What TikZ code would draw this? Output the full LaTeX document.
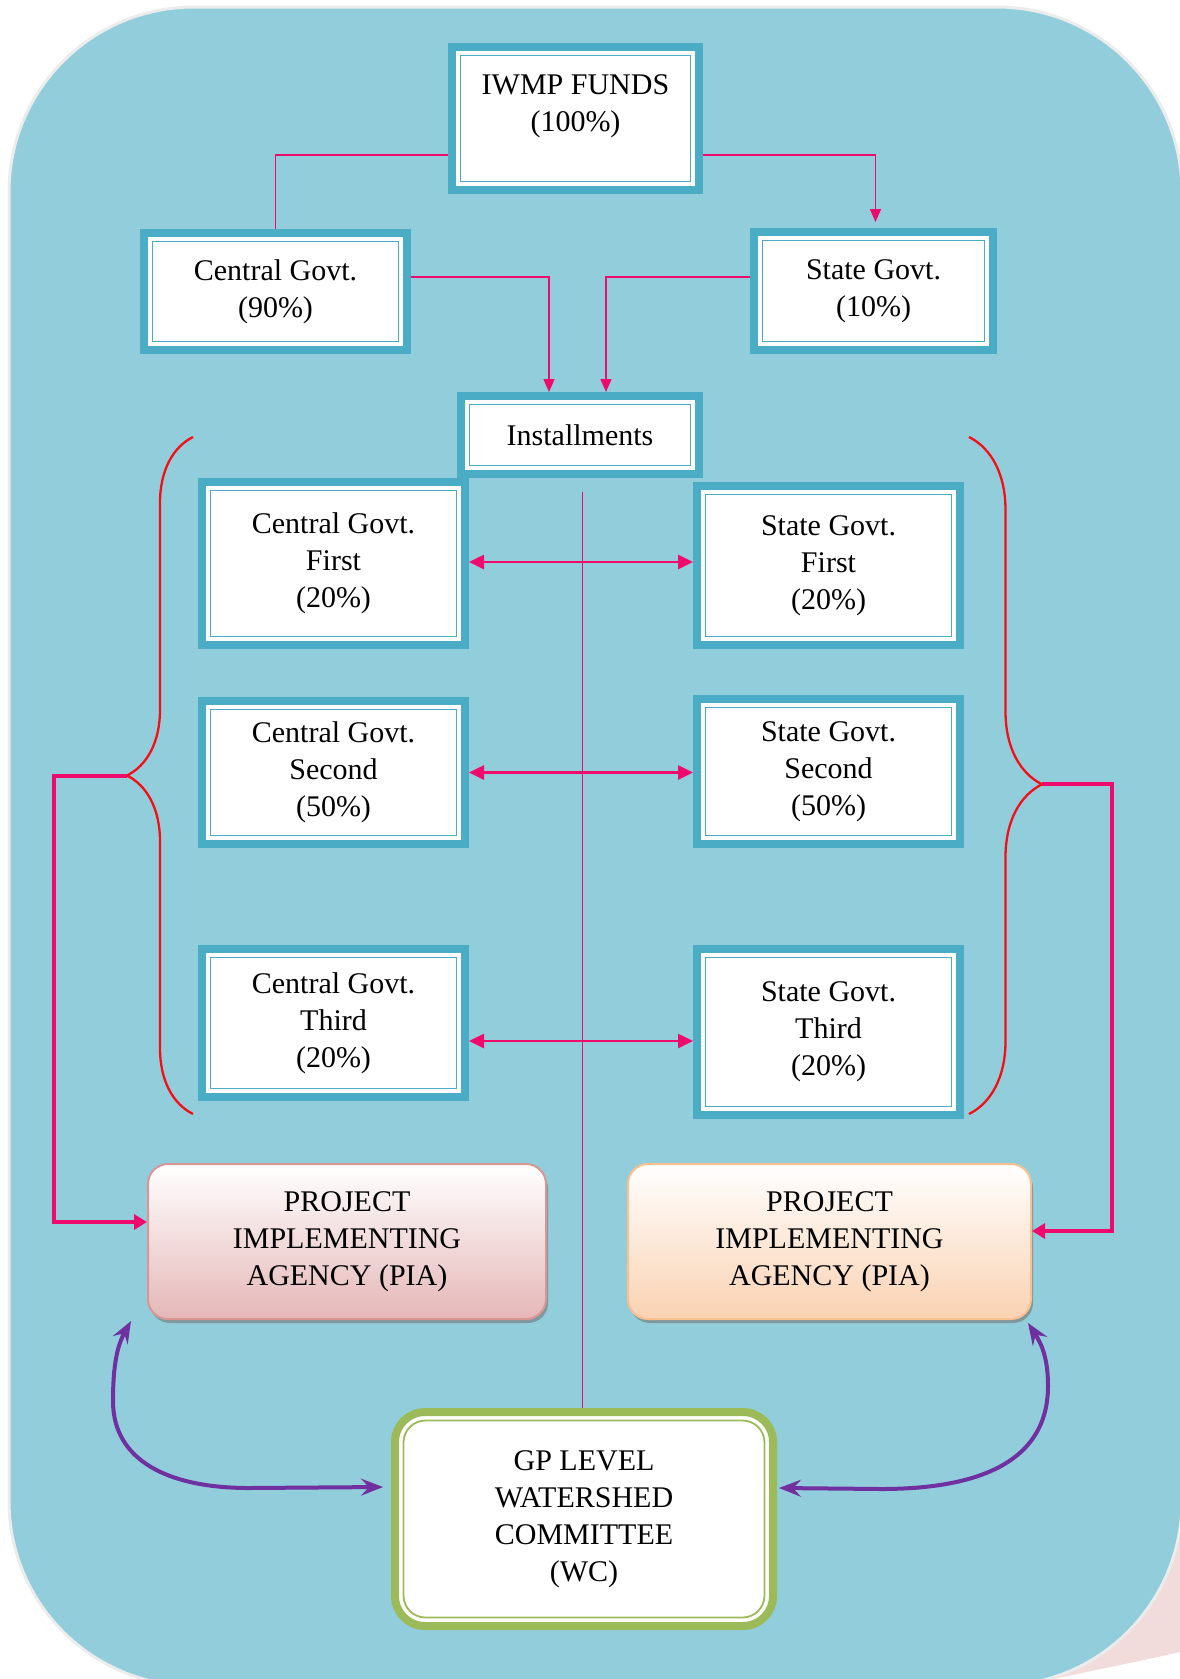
\documentclass[tikz,border=0pt]{standalone}
\usepackage{fontspec}
\setmainfont{Liberation Serif}
\usepackage{tikz}
\usetikzlibrary{arrows.meta, shadows, calc}
\usetikzlibrary{positioning}
\usetikzlibrary{decorations.pathreplacing}
\definecolor{bgblue}{RGB}{146,205,220}
\definecolor{bgedge}{RGB}{236,236,236}
\definecolor{pinkshade}{RGB}{242,220,219}
\definecolor{frameblue}{RGB}{75,172,198}
\definecolor{linkpink}{RGB}{240,10,110}
\definecolor{bracered}{RGB}{245,15,20}
\definecolor{wcpurple}{RGB}{112,48,160}
\definecolor{wcgreen}{RGB}{155,187,89}
\definecolor{piapink}{RGB}{229,183,183}
\definecolor{piapinkline}{RGB}{217,150,148}
\definecolor{piapeach}{RGB}{250,210,178}
\definecolor{piapeachline}{RGB}{250,192,144}
\tikzstyle{fundBox} = [rectangle, draw=frameblue, line width=8pt, fill=white, align=center, inner sep=0pt,
  path picture={\draw[frameblue, line width=1.8pt] ([shift={(8.5pt,8.5pt)}]path picture bounding box.south west) rectangle ([shift={(-8.5pt,-8.5pt)}]path picture bounding box.north east);}]
\tikzstyle{piaBox} = [rectangle, rounded corners=20pt, line width=2pt, align=center, inner sep=0pt, minimum height=155pt,
  drop shadow={shadow xshift=2pt, shadow yshift=-4pt, fill=black!55, opacity=.6}]
\tikzstyle{wcBox} = [rectangle, rounded corners=30pt, draw=wcgreen, line width=8pt, fill=white, align=center, inner sep=0pt,
  path picture={\draw[wcgreen, line width=1.8pt, rounded corners=22pt] ([shift={(8.5pt,8.5pt)}]path picture bounding box.south west) rectangle ([shift={(-8.5pt,-8.5pt)}]path picture bounding box.north east);}]
\tikzstyle{thinLink} = [draw=linkpink, line width=1.6pt]
\tikzstyle{thinArrow} = [thinLink, -{Triangle[length=13pt,width=11pt]}]
\tikzstyle{pairArrow} = [draw=linkpink, line width=2.6pt, {Triangle[length=15pt,width=14pt]}-{Triangle[length=15pt,width=14pt]}]
\tikzstyle{piaArrow} = [draw=linkpink, line width=4pt, -{Triangle[length=13pt,width=15pt]}]
\tikzstyle{braceLine} = [draw=bracered, line width=2.3pt, decorate, decoration={brace, amplitude=66pt}]
\tikzstyle{wcArrow} = [draw=wcpurple, line width=4pt, {Stealth[length=22pt,width=17pt,inset=8pt]}-{Stealth[length=22pt,width=17pt,inset=8pt]}]

\begin{document}
\begin{tikzpicture}[x=1pt, y=1pt, font=\fontsize{30}{37}\selectfont]

	\useasboundingbox (0,0) rectangle (1180,-1679);
	\clip (0,0) rectangle (1180,-1679);

	% background
	\fill[pinkshade] (1180,-1480) -- (1180,-1652) .. controls (1110,-1668) and (1060,-1676) .. (1010,-1690) -- (1010,-1480) -- cycle;
	\draw[bgedge, line width=3pt, fill=bgblue, rounded corners=185pt] (9,-7) rectangle (1182,-1686);

	\node[fundBox, minimum width=247pt, minimum height=143pt] at (575.5,-118.5) (IWMP-Funds) {IWMP FUNDS\\(100\%)\\[-6pt]~};

	\node[fundBox, minimum width=263pt, minimum height=117pt] at (275.5,-291.5) (Central-Govt) {Central Govt.\\(90\%)};
	\node[fundBox, minimum width=239pt, minimum height=118pt] at (873.5,-291) (State-Govt) {State Govt.\\(10\%)};

	\node[fundBox, minimum width=238pt, minimum height=78pt] at (580,-435) (Installments) {Installments};

	\node[fundBox, minimum width=263pt, minimum height=163pt] at (333.5,-563.5) (Central-First) {Central Govt.\\First\\(20\%)};
	\node[fundBox, minimum width=263pt, minimum height=159pt] at (828.5,-565.5) (State-First) {State Govt.\\First\\(20\%)};

	\node[fundBox, minimum width=263pt, minimum height=143pt] at (333.5,-772.5) (Central-Second) {Central Govt.\\Second\\(50\%)};
	\node[fundBox, minimum width=263pt, minimum height=145pt] at (828.5,-771.5) (State-Second) {State Govt.\\Second\\(50\%)};

	\node[fundBox, minimum width=263pt, minimum height=148pt] at (333.5,-1023) (Central-Third) {Central Govt.\\Third\\(20\%)};
	\node[fundBox, minimum width=263pt, minimum height=166pt] at (828.5,-1032) (State-Third) {State Govt.\\Third\\(20\%)};

	\node[piaBox, draw=piapinkline, top color=white, bottom color=piapink, minimum width=398pt] at (347,-1241.5) (PIA-Left) {PROJECT\\IMPLEMENTING\\AGENCY (PIA)};
	\node[piaBox, draw=piapeachline, top color=white, bottom color=piapeach, minimum width=403pt] at (829.5,-1241.5) (PIA-Right) {PROJECT\\IMPLEMENTING\\AGENCY (PIA)};

	\node[wcBox, minimum width=378pt, minimum height=214pt] at (584,-1519) (GP-WC) {GP LEVEL\\WATERSHED\\COMMITTEE\\(WC)};

	% funds split
	\draw[thinLink] ([yshift=-36.5pt]IWMP-Funds.west) -| (Central-Govt.north);
	\draw[thinArrow, shorten >=6pt] ([yshift=-36.5pt]IWMP-Funds.east) -| ([xshift=2pt]State-Govt.north);
	\draw[thinArrow] ([yshift=14.5pt]Central-Govt.east) -| ([xshift=-31pt]Installments.north);
	\draw[thinArrow] ([yshift=14pt]State-Govt.west) -| ([xshift=26pt]Installments.north);
	\draw[thinLink] ($(Installments.south -| GP-WC.north)+(-1.5,-14)$) -- ([xshift=-1.5pt]GP-WC.north);

	% installments
	\draw[pairArrow] ([yshift=1.5pt]Central-First.east) -- ([yshift=1.5pt]Central-First.east -| State-First.west);
	\draw[pairArrow] (Central-Second.east) -- (Central-Second.east -| State-Second.west);
	\draw[pairArrow] ([yshift=-18pt]Central-Third.east) -- ([yshift=-18pt]Central-Third.east -| State-Third.west);

	% braces
	\coordinate (Brace-Left-Tip) at (127,-776);
	\coordinate (Brace-Right-Tip) at (1042,-784);
	\draw[braceLine] (193,-1114) -- (193,-437);
	\draw[braceLine, decoration={aspect=0.513, amplitude=73pt}] (969,-437) -- (969,-1114);
	\draw[piaArrow] (Brace-Left-Tip) -- ++(-73,0) |- ([yshift=19.5pt]PIA-Left.west);
	\draw[piaArrow] (Brace-Right-Tip) -- ++(70,0) |- ([yshift=10.5pt]PIA-Right.east);

	% committee
	\draw[wcArrow] ($(PIA-Left.south west)+(-16,-1)$) .. controls +(-14,-25) and +(0,35) .. ++(-18,-80) .. controls +(0,-60) and +(-80,0) .. ++(136,-87) -- ($(GP-WC.west)+(-8,32)$);
	\draw[wcArrow] ($(PIA-Right.south east)+(-4,-3)$) .. controls +(15,-23) and +(0,25) .. ++(20,-63) .. controls +(0,-85) and +(80,0) .. ++(-167,-103) -- ($(GP-WC.east)+(2,31)$);

\end{tikzpicture}
\end{document}
